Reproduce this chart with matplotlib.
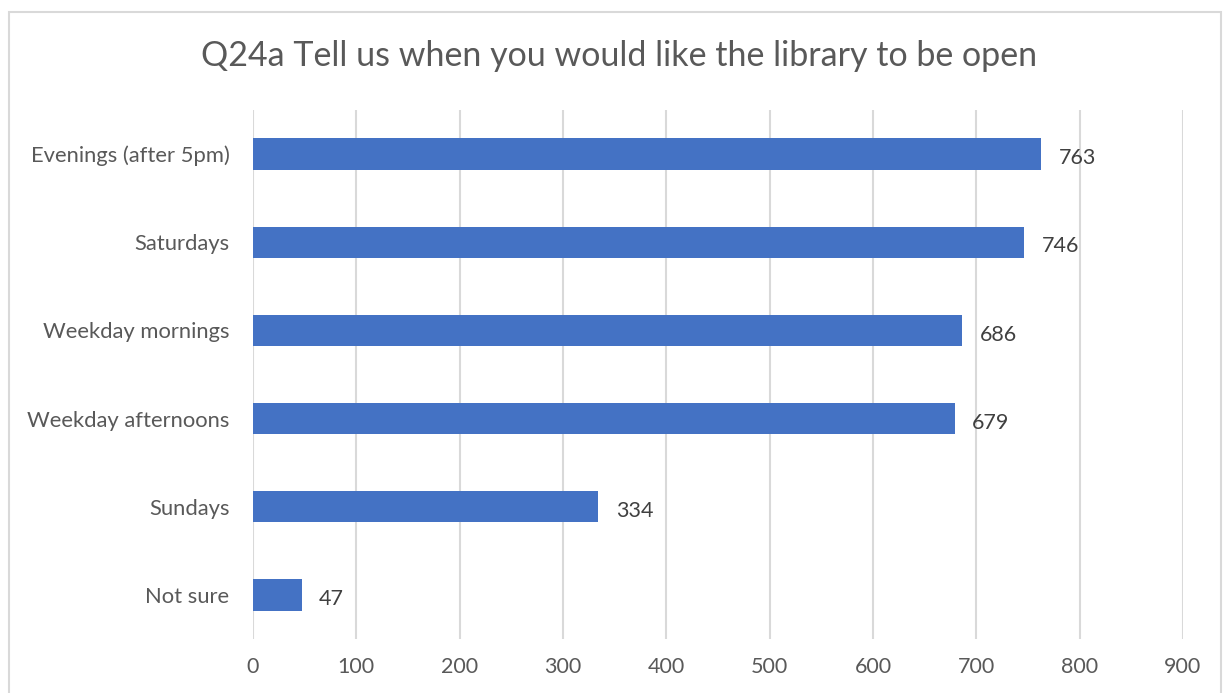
import matplotlib.pyplot as plt
from matplotlib.patches import Rectangle

# Survey answers, top to bottom as shown in the chart
categories = ["Evenings (after 5pm)", "Saturdays", "Weekday mornings",
              "Weekday afternoons", "Sundays", "Not sure"]
counts = [763, 746, 686, 679, 334, 47]
x_ticks = [0, 100, 200, 300, 400, 500, 600, 700, 800, 900]

title = "Q24a Tell us when you would like the library to be open"

plt.rcParams['font.family'] = ['Lato', 'DejaVu Sans']
text_color = "#595959"
bar_color = "#4472C4"
grid_color = "#D9D9D9"

W, H = 1224, 693
fig = plt.figure(figsize=(W / 100, H / 100), dpi=100)

# thin border around the chart area
fig.patches.append(Rectangle((9 / W, -0.01), (1221 - 9) / W, 1 - 12 / H + 0.01,
                             transform=fig.transFigure, fill=False,
                             edgecolor=grid_color, linewidth=1.5))

ax = fig.add_axes([253 / W, 1 - 639 / H, (1183 - 253) / W, (639 - 110) / H])

y = list(range(len(categories)))
ax.barh(y, counts, height=0.355, color=bar_color, zorder=3)
ax.set_ylim(len(categories) - 0.5, -0.5)
ax.set_xlim(x_ticks[0], x_ticks[-1])

# value labels just right of each bar, sitting a touch low like the original
for yi, v in zip(y, counts):
    ax.text(v + 17, yi + 0.025, str(v), va="center_baseline", ha="left",
            fontsize=15.5, color="#404040")

ax.set_yticks(y)
ax.set_yticklabels(categories, fontsize=15.8, color=text_color)
ax.set_xticks(x_ticks)
ax.set_xticklabels([str(t) for t in x_ticks], fontsize=15.5, color=text_color)
ax.tick_params(axis="both", length=0)
ax.tick_params(axis="x", pad=13)
ax.tick_params(axis="y", pad=17)

ax.grid(axis="x", color=grid_color, linewidth=1.5, zorder=0)
for s in ax.spines.values():
    s.set_visible(False)

fig.text((200 + 1038) / 2 / W, 1 - 56 / H, title, ha="center", va="center",
         fontsize=24.5, color=text_color)

fig.savefig("out.png", dpi=100)
